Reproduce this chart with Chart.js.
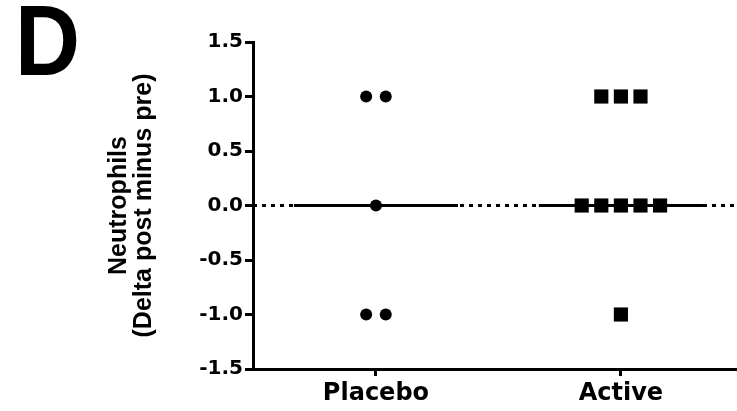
<!DOCTYPE html>
<html><head><meta charset="utf-8">
<script src="https://cdn.jsdelivr.net/npm/chart.js@4"></script>
<style>
html,body{margin:0;padding:0;background:#fff;}
#wrap{position:relative;width:737px;height:411px;overflow:hidden;}
#panel{position:absolute;left:15px;top:-10px;font:bold 100px/100px "Liberation Sans",Arial,sans-serif;color:#000;transform:scaleX(0.9);transform-origin:0 0;}
canvas{position:absolute;left:0;top:0;}
</style></head><body>
<div id="wrap"><canvas id="c" width="737" height="411"></canvas><div id="panel">D</div></div>
<script>
// ---- data ----
const categories = ['Placebo', 'Active'];
const placeboValues = [1, 1, 0, -1, -1];
const activeValues = [1, 1, 1, 0, 0, 0, 0, 0, -1];
const yTicks = [-1.5, -1.0, -0.5, 0.0, 0.5, 1.0, 1.5];
const referenceValue = 0;
const yTitle = ['Neutrophils', '(Delta post minus pre)'];

// ---- helpers ----
const FONT = '"Liberation Sans", Arial, Helvetica, sans-serif';
const TICKFONT = '"DejaVu Sans", Verdana, sans-serif';
function swarm(values, center, step) {
  const groups = {};
  values.forEach(v => { (groups[v] = groups[v] || []).push(v); });
  const pts = [];
  Object.keys(groups).forEach(k => {
    const n = groups[k].length;
    for (let i = 0; i < n; i++) pts.push({ x: center + (i - (n - 1) / 2) * step, y: Number(k) });
  });
  return pts;
}
function median(arr) {
  const s = [...arr].sort((a, b) => a - b);
  const m = Math.floor(s.length / 2);
  return s.length % 2 ? s[m] : (s[m - 1] + s[m]) / 2;
}
const step = 0.08, halfMed = 0.335, xMin = 0.498, xMax = 2.474;
const groups = [placeboValues, activeValues];
const styles = ['circle', 'rect'];
const radii = [6, 10];

const datasets = [];
groups.forEach((vals, i) => {
  datasets.push({
    data: swarm(vals, i + 1, step), pointStyle: styles[i], pointRadius: radii[i],
    backgroundColor: '#000', borderColor: '#000', borderWidth: 0, showLine: false, order: 0
  });
});
groups.forEach((vals, i) => {
  const m = median(vals);
  datasets.push({
    data: [{ x: i + 1 - halfMed, y: m }, { x: i + 1 + halfMed, y: m }],
    showLine: true, borderColor: '#000', borderWidth: 3, pointRadius: 0, order: 1
  });
});
datasets.push({
  data: [{ x: xMin, y: referenceValue }, { x: xMax, y: referenceValue }],
  showLine: true, borderColor: '#000', borderWidth: 3, borderDash: [4, 5], pointRadius: 0, order: 2
});

new Chart(document.getElementById('c'), {
  type: 'scatter',
  data: { datasets },
  options: {
    responsive: false, devicePixelRatio: 1, animation: false,
    layout: { autoPadding: false, padding: { top: 42, left: 0, right: 0, bottom: 0 } },
    plugins: { legend: { display: false }, tooltip: { enabled: false } },
    scales: {
      x: {
        type: 'linear', min: xMin, max: xMax,
        afterBuildTicks: s => { s.ticks = categories.map((_, i) => ({ value: i + 1 })); },
        ticks: { callback: v => categories[v - 1] ?? '', font: { family: TICKFONT, size: 24, weight: 'bold' }, color: '#000', padding: 3, maxRotation: 0, autoSkip: false },
        grid: { drawOnChartArea: false, drawTicks: true, tickLength: 7, tickWidth: 3, tickColor: '#000' },
        border: { display: true, color: '#000', width: 3 },
        afterFit: s => { s.height = 42; s.paddingLeft = 0; s.paddingRight = 0; }
      },
      y: {
        min: -1.5, max: 1.5,
        afterBuildTicks: s => { s.ticks = yTicks.map(v => ({ value: v })); },
        ticks: { callback: v => Number(v).toFixed(1), font: { family: TICKFONT, size: 20, weight: 'bold' }, color: '#000', padding: 2, autoSkip: false },
        grid: { drawOnChartArea: false, drawTicks: true, tickLength: 8, tickWidth: 3, tickColor: '#000' },
        border: { display: true, color: '#000', width: 3 },
        title: { display: true, text: yTitle, color: '#000', font: { family: FONT, size: 25, weight: 'bold', lineHeight: 1.0 }, padding: { top: 107, bottom: 0 } },
        afterFit: s => { s.width = 253; }
      }
    }
  }
});
</script>
</body></html>
